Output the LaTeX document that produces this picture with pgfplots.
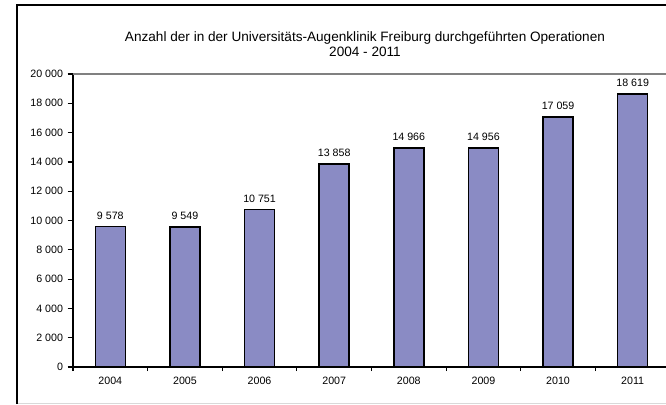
\documentclass[border=0pt]{standalone}
\usepackage{pgfplots}
\pgfplotsset{compat=1.18}
\usepackage{fontspec}
\setmainfont{Liberation Sans}
\definecolor{barfill}{RGB}{138,139,196}
\begin{document}
\begin{tikzpicture}
\useasboundingbox (0pt,0pt) rectangle (499.5pt,303pt);
\clip (0pt,0pt) rectangle (499.5pt,303pt);
\fill[white] (0pt,0pt) rectangle (499.5pt,303pt);
\draw[black!15, line width=0.75pt] (12.75pt,0.75pt) -- (520pt,0.75pt);
\draw[black, line width=1.6pt] (12.75pt,0pt) -- (12.75pt,299.25pt) -- (520pt,299.25pt);
\node[font=\fontsize{10.2}{10.8}\selectfont, align=center] at (273.75pt,270pt) {Anzahl der in der Universitäts-Augenklinik Freiburg durchgeführten Operationen\\2004 - 2011};
\begin{axis}[
  at={(54.75pt,27.75pt)}, anchor=south west,
  scale only axis, width=447.75pt, height=219.75pt,
  xmin=-0.5, xmax=7.5, ymin=0, ymax=20000,
  ybar, bar width=22.5pt,
  axis x line*=bottom, axis y line*=left,
  axis line style={black, line width=1.1pt},
  ytick={0,2000,...,20000}, scaled y ticks=false,
  xtick={0,...,7}, xticklabels={2004,2005,2006,2007,2008,2009,2010,2011},
  minor xtick={-0.5,0.5,...,7.5},
  major x tick style={draw=none},
  tick align=outside,
  major tick length=4pt, minor tick length=3pt,
  every tick/.style={black, line width=0.9pt},
  minor x tick style={black, line width=0.9pt},
  tick label style={font=\fontsize{8}{9}\selectfont},
  /pgf/number format/1000 sep={\ },
  /pgf/number format/assume math mode=true,
  nodes near coords,
  every node near coord/.append style={font=\fontsize{8}{9}\selectfont, black, yshift=1.5pt},
  clip=false,
]
\addplot[fill=barfill, draw=black, line width=1.2pt] coordinates {
(0,9578) (1,9549) (2,10751) (3,13858) (4,14966) (5,14956) (6,17059) (7,18619)};
\draw[black!50, line width=1pt] (rel axis cs:0,1) -- (rel axis cs:1,1);
\end{axis}
\end{tikzpicture}
\end{document}
